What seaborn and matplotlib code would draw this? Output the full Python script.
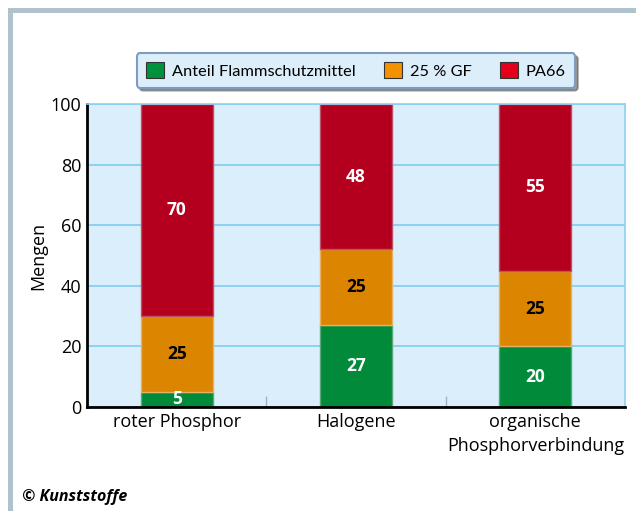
import matplotlib
matplotlib.use("Agg")
import matplotlib.pyplot as plt
import seaborn as sns
import numpy as np
from matplotlib.patches import Patch, Rectangle

categories = ["roter Phosphor", "Halogene", "organische\nPhosphorverbindung"]
flammschutz = [5, 27, 20]
gf = [25, 25, 25]
pa66 = [70, 48, 55]
series_names = ["Anteil Flammschutzmittel", "25 % GF", "PA66"]
yticks = [0, 20, 40, 60, 80, 100]

sns.set_theme(style="white")
plt.rcParams['font.family'] = ['Open Sans', 'DejaVu Sans']
plt.rcParams['text.color'] = 'black'
plt.rcParams['axes.labelcolor'] = 'black'

bar_colors = ["#008a3a", "#dc8500", "#b4001e"]
leg_colors = ["#00913c", "#f39200", "#e2001a"]
edge_colors = ["#5aa878", "#e8b060", "#c0506a"]

fig = plt.figure(figsize=(6.36, 5.11), dpi=100)
ax = fig.add_axes([87/636, 1-407/511, (625-87)/636, (407-104)/511])
ax.set_facecolor("#dbeefb")

bottom2 = [a + b for a, b in zip(flammschutz, gf)]
sns.barplot(x=categories, y=flammschutz, color=bar_colors[0], width=0.4, ax=ax,
            edgecolor=edge_colors[0], linewidth=1.0, saturation=1)
sns.barplot(x=categories, y=gf, bottom=flammschutz, color=bar_colors[1], width=0.4, ax=ax,
            edgecolor=edge_colors[1], linewidth=1.0, saturation=1)
sns.barplot(x=categories, y=pa66, bottom=bottom2, color=bar_colors[2], width=0.4, ax=ax,
            edgecolor=edge_colors[2], linewidth=1.0, saturation=1)

txt_colors = ["white", "black", "white"]
for cont, tc in zip(ax.containers, txt_colors):
    ax.bar_label(cont, label_type="center", color=tc, fontsize=12.5, fontweight="bold",
                 family=['Open Sans', 'DejaVu Sans'])

ax.set_ylim(0, 100)
ax.set_xlim(-0.5, 2.5)
ax.set_yticks(yticks)
ax.yaxis.grid(True, color="#7fcdf0", linewidth=1.2)
ax.set_axisbelow(True)
for s in ["top", "right"]:
    ax.spines[s].set_color("#8fd0f0")
    ax.spines[s].set_linewidth(1.2)
for s in ["left", "bottom"]:
    ax.spines[s].set_color("black")
    ax.spines[s].set_linewidth(2.0)
ax.tick_params(axis="both", labelsize=13, colors="black", length=0, pad=4)
for lbl in ax.get_xticklabels():
    lbl.set_linespacing(1.45)
ax.set_xticks([0.5, 1.5], minor=True)
ax.tick_params(axis="x", which="minor", direction="in", length=8, color="#9ab8c8", width=1, bottom=True)
ax.set_ylabel("Mengen", fontsize=13, labelpad=2.5, color="black")

handles = [Patch(facecolor=c, edgecolor="#333333", linewidth=0.8) for c in leg_colors]
leg = fig.legend(handles, series_names, loc="center", bbox_to_anchor=(356/636, 1-70.5/511),
                 ncol=3, frameon=True, fancybox=True, shadow=True,
                 prop={'family': ['Lato', 'DejaVu Sans'], 'size': 11.8},
                 columnspacing=1.7, handlelength=1.1, handleheight=1.1, handletextpad=0.5,
                 borderpad=0.55)
fr = leg.get_frame()
fr.set_facecolor("#ddeefb")
fr.set_edgecolor("#7d9cc0")
fr.set_linewidth(1.5)
fr.set_alpha(1)

# gray frame top and left
fig.patches.append(Rectangle((8/636, 0), 5/636, 1-8/511, transform=fig.transFigure,
                             facecolor="#b0c3cd", edgecolor="none"))
fig.patches.append(Rectangle((8/636, 1-13/511), 1, 5/511, transform=fig.transFigure,
                             facecolor="#b0c3cd", edgecolor="none"))

fig.text(22/636, 1-497/511, "© Kunststoffe", fontsize=11.5, fontweight="bold", fontstyle="italic",
         va="center", ha="left")

fig.savefig("out.png", dpi=100)
